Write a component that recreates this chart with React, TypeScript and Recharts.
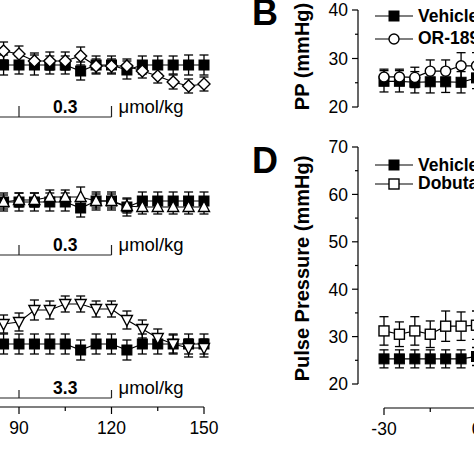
import React from 'react';
import { LineChart, Line, XAxis, YAxis, ErrorBar, ReferenceLine, Legend } from 'recharts';

const FONT = '"Liberation Sans", Arial, Helvetica, sans-serif';

// ---- time points (min) ----
const leftTimes = [85, 90, 95, 100, 105, 110, 115, 120, 125, 130, 135, 140, 145, 150];
const rightTimes = [-30, -25, -20, -15, -10, -5, 0];

// ---- panel A (vehicle vs OR-1896, 0.3 umol/kg) ----
const aVehicle = [77.5, 77.5, 77.5, 77.5, 77.5, 74.5, 77.5, 77.5, 75, 77.5, 77.5, 77.5, 77.5, 77.5];
const aVehicleErr = [5, 4.5, 5, 4.5, 4.5, 4.5, 4.5, 4.5, 4.5, 4.5, 4.5, 4.5, 5, 5];
const aDrug = [84.5, 83, 79.5, 79.5, 79.5, 82, 77, 77, 77, 74.5, 72, 69, 67, 68];
const aDrugErr = [4.5, 4, 4, 4.5, 4.5, 4.5, 3.5, 3.5, 3.5, 3.5, 3.5, 3.5, 3.5, 3.5];

// ---- panel C ----
const cVehicle = [79, 79, 79, 79, 79, 76, 79.5, 79.5, 76.5, 79.5, 79.5, 79.5, 79.5, 79.5];
const cVehicleErr = [4.5, 4.5, 4.5, 4.5, 4.5, 4.5, 4.5, 4.5, 4.5, 4.5, 4.5, 4.5, 4.5, 4.5];
const cDrug = [79, 80, 80, 81.5, 81.5, 81.5, 79.5, 79.5, 77, 76.5, 76.5, 76.5, 76.5, 76.5];
const cDrugErr = [3.5, 3.5, 3.5, 3.5, 3.5, 5, 3.5, 3.5, 3.5, 3.5, 3.5, 3.5, 3.5, 3.5];

// ---- panel E ----
const eVehicle = [69.5, 69.5, 69.5, 69.5, 69.5, 66.5, 69.5, 69.5, 66.5, 69.5, 69.5, 69.5, 69.5, 69.5];
const eVehicleErr = [5, 5, 5, 5, 5, 5, 5, 5, 5, 5, 5, 5, 5, 5];
const eDrug = [79.5, 80.5, 86.5, 86.5, 89.5, 89.5, 87, 87, 81.5, 77, 72.5, 69.5, 67.5, 67.5];
const eDrugErr = [4.5, 4.5, 5, 4.5, 4, 4, 4, 4, 4.5, 4.5, 4.5, 4.5, 4.5, 4.5];

// ---- panel B: PP (mmHg) ----
const bVehicle = [25.3, 25.3, 25.1, 25.2, 25.2, 25.1, 26];
const bVehicleErr = [2.2, 2.2, 2.2, 2.3, 2.2, 2.2, 2.2];
const bDrug = [26.2, 26.2, 26.1, 27.4, 27.4, 28.5, 28.5];
const bDrugErr = [1.6, 1.6, 2.1, 2.3, 2.3, 2.7, 2.7];

// ---- panel D: Pulse Pressure (mmHg) ----
const dVehicle = [25.3, 25.3, 25.3, 25.3, 25.3, 25.3, 25.8];
const dVehicleErr = [1.9, 1.9, 1.9, 1.9, 1.9, 1.9, 1.9];
const dDrug = [31.2, 30.5, 31.2, 30.5, 32.2, 32.2, 32.4];
const dDrugErr = [3, 2.6, 3, 2.8, 3.2, 3, 3];

// ---- ticks / labels ----
const xTicks = [-30, -15, 0, 15, 30, 45, 60, 75, 90, 105, 120, 135, 150];
const ppTicks = [20, 25, 30, 35, 40];
const pulseTicks = [20, 25, 30, 35, 40, 45, 50, 55, 60, 65, 70];
const doseA = '0.3';
const doseC = '0.3';
const doseE = '3.3';
const doseUnit = '\u03bcmol/kg';
const legendBNames = ['Vehicle', 'OR-1896'];
const legendDNames = ['Vehicle', 'Dobutamine'];
const ppTitle = 'PP (mmHg)';
const pulseTitle = 'Pulse Pressure (mmHg)';
const panelLetters = ['B', 'D'];

const build = (times: number[], veh: number[], vehErr: number[], drug: number[], drugErr: number[]) =>
  times.map((t, i) => ({ t, veh: veh[i], vehErr: vehErr[i], drug: drug[i], drugErr: drugErr[i] }));

const aRows = build(leftTimes, aVehicle, aVehicleErr, aDrug, aDrugErr);
const cRows = build(leftTimes, cVehicle, cVehicleErr, cDrug, cDrugErr);
const eRows = build(leftTimes, eVehicle, eVehicleErr, eDrug, eDrugErr);
const bRows = build(rightTimes, bVehicle, bVehicleErr, bDrug, bDrugErr);
const dRows = build(rightTimes, dVehicle, dVehicleErr, dDrug, dDrugErr);

type Shape = 'fsquare' | 'osquare' | 'ocircle' | 'odiamond' | 'otriUp' | 'otriDown';

const SW = 1.4;
function markerEl(shape: Shape, cx: number, cy: number, key: string) {
  if (cx == null || cy == null || isNaN(cx) || isNaN(cy)) return <g key={key} />;
  switch (shape) {
    case 'fsquare':
      return <rect key={key} x={cx - 5} y={cy - 5} width={10} height={10} fill="#000" stroke="#000" strokeWidth={1} />;
    case 'osquare':
      return <rect key={key} x={cx - 5} y={cy - 5} width={10} height={10} fill="#fff" stroke="#000" strokeWidth={SW} />;
    case 'ocircle':
      return <circle key={key} cx={cx} cy={cy} r={5} fill="#fff" stroke="#000" strokeWidth={SW} />;
    case 'odiamond':
      return <path key={key} d={`M${cx},${cy - 6}L${cx + 6},${cy}L${cx},${cy + 6}L${cx - 6},${cy}Z`} fill="#fff" stroke="#000" strokeWidth={SW} />;
    case 'otriUp':
      return <path key={key} d={`M${cx},${cy - 6}L${cx + 5.5},${cy + 4.5}L${cx - 5.5},${cy + 4.5}Z`} fill="#fff" stroke="#000" strokeWidth={SW} />;
    case 'otriDown':
      return <path key={key} d={`M${cx},${cy + 6}L${cx + 5.5},${cy - 4.5}L${cx - 5.5},${cy - 4.5}Z`} fill="#fff" stroke="#000" strokeWidth={SW} />;
  }
  return <g key={key} />;
}
const dotFor = (shape: Shape) => (p: any) => markerEl(shape, p.cx, p.cy, `${shape}-${p.index}`);

const XTick = (p: any) => {
  const { x, y, payload } = p;
  const major = payload.value % 30 === 0;
  return (
    <g>
      <line x1={x} x2={x} y1={y} y2={y + (major ? 7 : 4)} stroke="#000" strokeWidth={1.2} />
      {major && (
        <text x={x} y={y + 27} textAnchor="middle" fontSize={17.5} fontFamily={FONT} fill="#000">
          {payload.value}
        </text>
      )}
    </g>
  );
};

const YTick = (p: any) => {
  const { x, y, payload } = p;
  const major = payload.value % 10 === 0;
  return (
    <g>
      <line x1={x - (major ? 6 : 3)} x2={x} y1={y} y2={y} stroke="#000" strokeWidth={1.2} />
      {major && (
        <text x={x - 10} y={y} dy="0.36em" textAnchor="end" fontSize={17.5} fontFamily={FONT} fill="#000">
          {payload.value}
        </text>
      )}
    </g>
  );
};

const VTitle = (p: any) => {
  const vb = p.viewBox || { x: 0, y: 0, width: 0, height: 0 };
  const cx = vb.x + 14;
  const cy = vb.y + vb.height / 2 + (p.shift || 0);
  return (
    <text
      x={cx}
      y={cy}
      transform={`rotate(-90 ${cx} ${cy})`}
      textAnchor="middle"
      dominantBaseline="central"
      fontSize={20}
      fontWeight="bold"
      fontFamily={FONT}
      fill="#000"
    >
      {p.text}
    </text>
  );
};

const DoseLabel = (p: any) => {
  const vb = p.viewBox || { x: 0, y: 0, width: 0, height: 0 };
  const base = vb.y - 4.5;
  return (
    <g>
      <text x={vb.x + vb.width / 2} y={base} textAnchor="middle" fontSize={17.5} fontWeight="bold" fontFamily={FONT} fill="#000">
        {p.dose}
      </text>
      <text x={vb.x + vb.width + 7} y={base} textAnchor="start" fontSize={18.5} fontFamily={FONT} fill="#000">
        {p.unit}
      </text>
    </g>
  );
};

const LegendRows = ({ names, shapes, rowH }: { names: string[]; shapes: Shape[]; rowH: number }) => (
  <div style={{ fontFamily: FONT, fontWeight: 'bold', fontSize: 17.5, whiteSpace: 'nowrap', color: '#000' }}>
    {names.map((n, i) => (
      <div key={n} style={{ display: 'flex', alignItems: 'center', height: rowH }}>
        <svg width={40} height={14} style={{ flex: 'none', overflow: 'visible' }}>
          <line x1={1} x2={39} y1={7} y2={7} stroke="#000" strokeWidth={1.2} />
          {markerEl(shapes[i], 20, 7, 'm')}
        </svg>
        <span style={{ marginLeft: 4 }}>{n}</span>
      </div>
    ))}
  </div>
);

const LINE = { stroke: '#000', strokeWidth: 1.2, isAnimationActive: false, activeDot: false as const, type: 'linear' as const };
const EB = { width: 4.5, stroke: '#000', strokeWidth: 1.3, direction: 'y' as const };

function doseRefs(y: number, top: number, dose: string) {
  const s = { stroke: '#222', strokeWidth: 1.2 };
  return [
    <ReferenceLine key="h1" segment={[{ x: 60, y }, { x: 90, y }]} {...s} />,
    <ReferenceLine key="h2" segment={[{ x: 90, y }, { x: 120, y }]} {...s} label={<DoseLabel dose={dose} unit={doseUnit} />} />,
    <ReferenceLine key="v0" segment={[{ x: 60, y }, { x: 60, y: top }]} {...s} />,
    <ReferenceLine key="v1" segment={[{ x: 90, y }, { x: 90, y: top }]} {...s} />,
    <ReferenceLine key="v2" segment={[{ x: 120, y }, { x: 120, y: top }]} {...s} />,
  ];
}

const LEFT_X = -351;
const LEFT_W = 585;
const YW = 70;
const RIGHT_X = 358 - YW;
const RIGHT_W = YW + 581;

export default function App() {
  return (
    <div style={{ position: 'fixed', left: 0, top: 0, width: 474, height: 474, overflow: 'hidden', background: '#fff', fontFamily: FONT }}>
      {/* Panel A */}
      <div style={{ position: 'absolute', left: LEFT_X, top: -10 }}>
        <LineChart width={LEFT_W} height={140} data={aRows} margin={{ top: 0, right: 30, bottom: 0, left: 0 }}>
          <XAxis dataKey="t" type="number" domain={[-30, 150]} hide />
          <YAxis type="number" domain={[45, 115]} hide />
          {doseRefs(51.5, 57, doseA)}
          <Line dataKey="veh" {...LINE} dot={dotFor('fsquare')}>
            <ErrorBar dataKey="vehErr" {...EB} />
          </Line>
          <Line dataKey="drug" {...LINE} dot={dotFor('odiamond')}>
            <ErrorBar dataKey="drugErr" {...EB} />
          </Line>
        </LineChart>
      </div>
      {/* Panel C */}
      <div style={{ position: 'absolute', left: LEFT_X, top: 130 }}>
        <LineChart width={LEFT_W} height={140} data={cRows} margin={{ top: 0, right: 30, bottom: 0, left: 0 }}>
          <XAxis dataKey="t" type="number" domain={[-30, 150]} hide />
          <YAxis type="number" domain={[45, 115]} hide />
          {doseRefs(52.5, 57.5, doseC)}
          <Line dataKey="veh" {...LINE} dot={dotFor('fsquare')}>
            <ErrorBar dataKey="vehErr" {...EB} />
          </Line>
          <Line dataKey="drug" {...LINE} dot={dotFor('otriUp')}>
            <ErrorBar dataKey="drugErr" {...EB} />
          </Line>
        </LineChart>
      </div>
      {/* Panel E */}
      <div style={{ position: 'absolute', left: LEFT_X, top: 253 }}>
        <LineChart width={LEFT_W} height={194} data={eRows} margin={{ top: 0, right: 30, bottom: 0, left: 0 }}>
          <XAxis
            dataKey="t"
            type="number"
            domain={[-30, 150]}
            ticks={xTicks}
            interval={0}
            tick={XTick}
            tickLine={false}
            tickSize={0}
            tickMargin={0}
            height={40}
            axisLine={{ stroke: '#000', strokeWidth: 1.2 }}
          />
          <YAxis type="number" domain={[38, 115]} hide />
          {doseRefs(42.5, 46.5, doseE)}
          <Line dataKey="veh" {...LINE} dot={dotFor('fsquare')}>
            <ErrorBar dataKey="vehErr" {...EB} />
          </Line>
          <Line dataKey="drug" {...LINE} dot={dotFor('otriDown')}>
            <ErrorBar dataKey="drugErr" {...EB} />
          </Line>
        </LineChart>
      </div>
      {/* Panel B */}
      <div style={{ position: 'absolute', left: RIGHT_X, top: 0 }}>
        <LineChart width={RIGHT_W} height={117} data={bRows} margin={{ top: 10, right: 0, bottom: 10, left: 0 }}>
          <XAxis dataKey="t" type="number" domain={[-30, 150]} padding={{ left: 26, right: 0 }} hide />
          <YAxis
            type="number"
            domain={[20, 40]}
            ticks={ppTicks}
            interval={0}
            tick={YTick}
            tickLine={false}
            tickSize={0}
            tickMargin={0}
            width={YW}
            axisLine={{ stroke: '#000', strokeWidth: 1.2 }}
            label={<VTitle text={ppTitle} shift={-2} />}
          />
          <Legend
            layout="vertical"
            align="center"
            verticalAlign="middle"
            wrapperStyle={{ left: 86, top: 4.75, width: 'auto' }}
            content={() => <LegendRows names={legendBNames} shapes={['fsquare', 'ocircle']} rowH={22.5} />}
          />
          <Line dataKey="veh" name={legendBNames[0]} {...LINE} dot={dotFor('fsquare')}>
            <ErrorBar dataKey="vehErr" {...EB} />
          </Line>
          <Line dataKey="drug" name={legendBNames[1]} {...LINE} dot={dotFor('ocircle')}>
            <ErrorBar dataKey="drugErr" {...EB} />
          </Line>
        </LineChart>
      </div>
      {/* Panel D */}
      <div style={{ position: 'absolute', left: RIGHT_X, top: 137 }}>
        <LineChart width={RIGHT_W} height={257} data={dRows} margin={{ top: 10, right: 0, bottom: 10, left: 0 }}>
          <XAxis dataKey="t" type="number" domain={[-30, 150]} padding={{ left: 26, right: 0 }} hide />
          <YAxis
            type="number"
            domain={[20, 70]}
            ticks={pulseTicks}
            interval={0}
            tick={YTick}
            tickLine={false}
            tickSize={0}
            tickMargin={0}
            width={YW}
            axisLine={{ stroke: '#000', strokeWidth: 1.2 }}
            label={<VTitle text={pulseTitle} shift={3} />}
          />
          <Legend
            layout="vertical"
            align="center"
            verticalAlign="middle"
            wrapperStyle={{ left: 86, top: 18.75, width: 'auto' }}
            content={() => <LegendRows names={legendDNames} shapes={['fsquare', 'osquare']} rowH={18.5} />}
          />
          <Line dataKey="veh" name={legendDNames[0]} {...LINE} dot={dotFor('fsquare')}>
            <ErrorBar dataKey="vehErr" {...EB} />
          </Line>
          <Line dataKey="drug" name={legendDNames[1]} {...LINE} dot={dotFor('osquare')}>
            <ErrorBar dataKey="drugErr" {...EB} />
          </Line>
        </LineChart>
      </div>
      {/* Panel D time axis (offset below the y axis) */}
      <div style={{ position: 'absolute', left: 384 - 30, top: 398 }}>
        <LineChart width={615} height={50} data={dRows} margin={{ top: 0, right: 30, bottom: 0, left: 30 }}>
          <XAxis
            dataKey="t"
            type="number"
            domain={[-30, 150]}
            ticks={xTicks}
            interval={0}
            tick={XTick}
            tickLine={false}
            tickSize={0}
            tickMargin={0}
            height={40}
            axisLine={{ stroke: '#000', strokeWidth: 1.2 }}
          />
          <YAxis type="number" domain={[20, 70]} hide />
          <Line dataKey="veh" {...LINE} dot={false} hide />
        </LineChart>
      </div>
      {/* Panel letters */}
      <svg width={474} height={474} style={{ position: 'absolute', left: 0, top: 0, pointerEvents: 'none' }}>
        <text x={252} y={25} fontSize={36} fontWeight="bold" fontFamily={FONT} fill="#000">{panelLetters[0]}</text>
        <text x={252} y={173} fontSize={36} fontWeight="bold" fontFamily={FONT} fill="#000">{panelLetters[1]}</text>
      </svg>
    </div>
  );
}
